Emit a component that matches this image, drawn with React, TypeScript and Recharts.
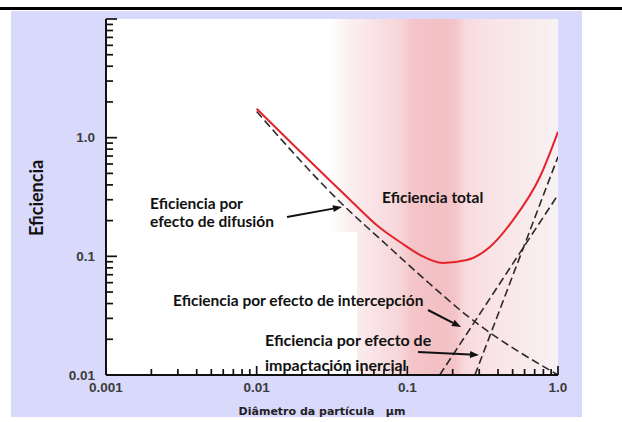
import { LineChart, Line, XAxis, YAxis } from "recharts";

// particle diameter (µm) and efficiency values
const totalD = [0.01, 0.0416, 0.0658, 0.0894, 0.121, 0.172, 0.248, 0.353, 0.5, 0.759, 1.0];
const totalV = [1.75, 0.3, 0.174, 0.132, 0.103, 0.088, 0.093, 0.12, 0.2, 0.468, 1.12];

const diffusionD = [0.01, 0.0385, 0.0658, 0.127, 0.26, 1.0];
const diffusionV = [1.66, 0.262, 0.1405, 0.0659, 0.0303, 0.01];

const interceptionD = [0.164, 1.0];
const interceptionV = [0.01, 0.33];

const impactionD = [0.281, 1.0];
const impactionV = [0.01, 0.69];

const xMajor = [0.001, 0.01, 0.1, 1];
const xMajorLabels = ["0.001", "0.01", "0.1", "1.0"];
const yMajor = [0.01, 0.1, 1, 10];
const yMajorLabels = ["0.01", "0.1", "1.0", ""];
const minorSteps = [2, 3, 4, 5, 6, 7, 8, 9];

// layout of the plot box inside the 622x422 picture
const W = 622;
const H = 422;
const PLOT_L = 106;
const PLOT_R = 558;
const PLOT_T = 19;
const PLOT_B = 375;

const toRows = (d: number[], v: number[]) => d.map((x, i) => ({ d: x, v: v[i] }));

const withMinors = (majors: number[]) =>
  majors.flatMap((m, i) => (i < majors.length - 1 ? [m, ...minorSteps.map((s) => s * m)] : [m]));

const isDecade = (v: number) => Math.abs(Math.log10(v) - Math.round(Math.log10(v))) < 1e-6;

const labelFor = (v: number, majors: number[], labels: string[]) => {
  const i = majors.findIndex((m) => Math.abs(m - v) < m * 1e-6);
  return i >= 0 ? labels[i] : "";
};

const tickFont = { fontFamily: "Liberation Sans, Arial, sans-serif", fontWeight: 700, fontSize: 13.5, fill: "#3c3c3c" };

function XTick(props: any) {
  const { x, y, payload } = props;
  const major = isDecade(payload.value);
  return (
    <g>
      <line x1={x} y1={y} x2={x} y2={y - (major ? 9 : 6)} stroke="#111" strokeWidth={1.7} />
      {major && (
        <text x={x} y={y + 12} textAnchor="middle" dominantBaseline="central" {...tickFont}>
          {labelFor(payload.value, xMajor, xMajorLabels)}
        </text>
      )}
    </g>
  );
}

function YTick(props: any) {
  const { x, y, payload } = props;
  const major = isDecade(payload.value);
  return (
    <g>
      <line x1={x} y1={y} x2={x + (major ? 11 : 7)} y2={y} stroke="#111" strokeWidth={1.7} />
      {major && (
        <text x={x - 11} y={y} textAnchor="end" dominantBaseline="central" {...tickFont}>
          {labelFor(payload.value, yMajor, yMajorLabels)}
        </text>
      )}
    </g>
  );
}

const annot = { fontFamily: "Lato, 'Open Sans', sans-serif", fontWeight: 700, fill: "#111" };

function Arrow({ x1, y1, x2, y2 }: { x1: number; y1: number; x2: number; y2: number }) {
  const a = Math.atan2(y2 - y1, x2 - x1);
  const L = 9;
  const hw = 3.5;
  const bx = x2 - L * Math.cos(a);
  const by = y2 - L * Math.sin(a);
  const p1 = `${bx + hw * Math.sin(a)},${by - hw * Math.cos(a)}`;
  const p2 = `${bx - hw * Math.sin(a)},${by + hw * Math.cos(a)}`;
  return (
    <g>
      <line x1={x1} y1={y1} x2={bx} y2={by} stroke="#111" strokeWidth={2} />
      <polygon points={`${x2},${y2} ${p1} ${p2}`} fill="#111" />
    </g>
  );
}

const pinkBand =
  "linear-gradient(90deg, #ffffff 0px, #fcf0f1 18px, #f9e2e5 45px, #f6d4d7 72px, #f4c5c9 82px, #f3c0c4 110px, #f4c4c8 125px, #f8dadd 135px, #f9e3e6 160px, #f9eaec 195px, #f8f2f3 228px)";

export default function App() {
  return (
    <div style={{ position: "absolute", left: 0, top: 0, width: W, height: H, background: "#fff", overflow: "hidden" }}>
      <div style={{ position: "absolute", left: 0, top: 7, width: W, height: 3, background: "#000" }} />
      <div style={{ position: "absolute", left: 11, top: 11, width: 571, height: 406, background: "#d9d9fb" }} />
      <div style={{ position: "absolute", left: PLOT_L, top: PLOT_T, width: PLOT_R - PLOT_L, height: PLOT_B - PLOT_T, background: "#fff" }} />
      <div style={{ position: "absolute", left: 330, top: PLOT_T, width: PLOT_R - 330, height: PLOT_B - PLOT_T, background: pinkBand }} />
      <div style={{ position: "absolute", left: 330, top: 232, width: 27, height: PLOT_B - 232, background: "#fff" }} />
      <div style={{ position: "absolute", left: 0, top: 0 }}>
        <LineChart width={W} height={H} margin={{ top: PLOT_T, right: W - PLOT_R, bottom: H - PLOT_B - 30, left: PLOT_L - 50 }}>
          <XAxis
            type="number"
            dataKey="d"
            scale="log"
            domain={[0.001, 1]}
            allowDataOverflow
            ticks={withMinors(xMajor)}
            interval={0}
            tick={<XTick />}
            tickLine={false}
            tickSize={0}
            tickMargin={0}
            height={30}
            axisLine={{ stroke: "#111", strokeWidth: 2 }}
          />
          <YAxis
            type="number"
            dataKey="v"
            scale="log"
            domain={[0.01, 10]}
            allowDataOverflow
            ticks={withMinors(yMajor)}
            interval={0}
            tick={<YTick />}
            tickLine={false}
            tickSize={0}
            tickMargin={0}
            width={50}
            axisLine={{ stroke: "#111", strokeWidth: 2 }}
          />
          <Line data={toRows(diffusionD, diffusionV)} dataKey="v" type="monotone" stroke="#2a2a2a" strokeWidth={1.6} strokeDasharray="8 4" dot={false} isAnimationActive={false} />
          <Line data={toRows(interceptionD, interceptionV)} dataKey="v" type="linear" stroke="#2a2a2a" strokeWidth={1.6} strokeDasharray="8 4" dot={false} isAnimationActive={false} />
          <Line data={toRows(impactionD, impactionV)} dataKey="v" type="linear" stroke="#2a2a2a" strokeWidth={1.6} strokeDasharray="8 4" dot={false} isAnimationActive={false} />
          <Line data={toRows(totalD, totalV)} dataKey="v" type="monotone" stroke="#e3242b" strokeWidth={2} dot={false} isAnimationActive={false} />
        </LineChart>
      </div>
      <svg width={W} height={H} style={{ position: "absolute", left: 0, top: 0, pointerEvents: "none" }}>
        <text x={36} y={198} transform="rotate(-90 36 198)" textAnchor="middle" dominantBaseline="central" fontSize={18} {...annot}>
          Eficiencia
        </text>
        <text x={322} y={411} textAnchor="middle" dominantBaseline="central" fontSize={11} fontFamily="DejaVu Sans, sans-serif" fontWeight={700} fill="#222">
          Diâmetro da partícula {"\u00a0\u00a0"}µm
        </text>
        <text x={382} y={197} dominantBaseline="central" fontSize={15.5} {...annot}>Eficiencia total</text>
        <text x={150} y={203} dominantBaseline="central" fontSize={15.5} {...annot}>Eficiencia por</text>
        <text x={150} y={221} dominantBaseline="central" fontSize={15.5} {...annot}>efecto de difusión</text>
        <text x={173} y={300} dominantBaseline="central" fontSize={15.5} {...annot}>Eficiencia por efecto de intercepción</text>
        <text x={265} y={339} dominantBaseline="central" fontSize={16} {...annot}>Eficiencia por efecto de</text>
        <text x={265} y={364} dominantBaseline="central" fontSize={16} {...annot}>impactación inercial</text>
        <Arrow x1={287} y1={217} x2={342} y2={207} />
        <Arrow x1={428} y1={310} x2={461} y2={327} />
        <Arrow x1={418} y1={352} x2={479} y2={355} />
      </svg>
    </div>
  );
}
